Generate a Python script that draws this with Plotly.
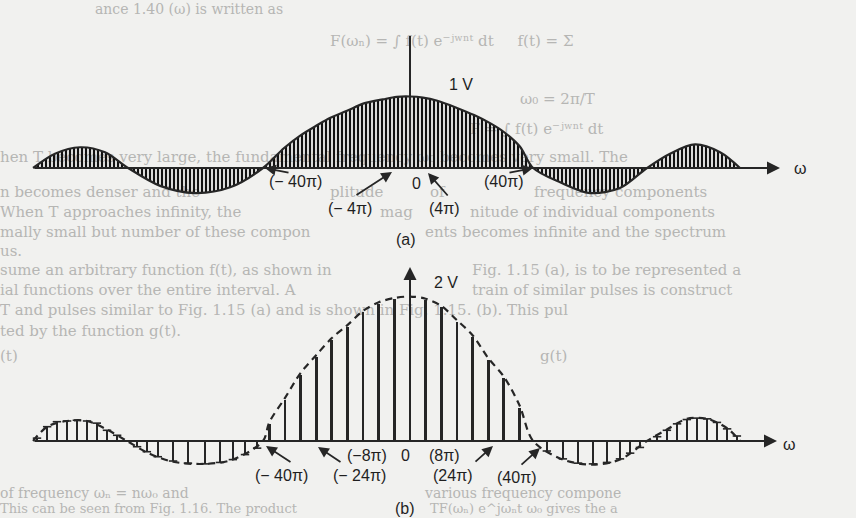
import plotly.graph_objects as go

W, H = 856, 518
INK = "#262626"
GHOST = "#b6b6b4"
BG = "#f1f1ef"

# ---------------- data (omega in units of pi, amplitude in volts) ----------------
# (a) continuous spectrum envelope
env_a_omega = [-96.4, -90.8, -84.4, -78.0, -72.1, -63.9, -55.0, -46.0, -37.6,
               -32.2, -27.9, -24.0, -20.5, -16.1, -12.0, -6.9, -3.4, 0.0,
               3.3, 7.0, 12.0, 16.4, 20.7, 24.1, 28.1, 31.5,
               38.4, 46.0, 53.7, 60.6, 66.5, 72.9, 79.3, 84.4]
env_a_amp = [0.0, 0.20, 0.29, 0.22, 0.0, -0.25, -0.35, -0.27, 0.0,
             0.28, 0.46, 0.59, 0.70, 0.80, 0.90, 0.96, 0.995, 1.0,
             0.985, 0.94, 0.84, 0.74, 0.62, 0.50, 0.30, 0.0,
             -0.20, -0.35, -0.28, 0.0, 0.20, 0.33, 0.22, 0.0]

# (b) line spectrum: main-lobe components (spacing 4*pi)
main_omega = [-36, -32, -28, -24, -20, -16, -12, -8, -4, 0, 4, 8, 12, 16, 20, 24, 28]
main_amp = [0.24, 0.57, 0.92, 1.17, 1.41, 1.59, 1.80, 1.92, 1.99, 2.0,
            1.97, 1.87, 1.66, 1.45, 1.13, 0.88, 0.46]

# (b) side-lobe components
side_omega = [-95.4, -92.8, -90.3, -87.7, -85.2, -82.6, -80.1, -77.5, -74.9,
              -69.8, -67.3, -64.5, -60.6, -56.8, -52.4, -48.6, -45.3, -42.2, -39.1,
              35.0, 39.1, 43.0, 46.8, 50.4, 53.7, 56.3, 58.8,
              63.2, 65.7, 68.3, 70.8, 73.4, 76.0, 78.5, 81.1, 83.6]
side_amp = [0.04, 0.20, 0.27, 0.28, 0.29, 0.28, 0.25, 0.15, 0.08,
            -0.08, -0.15, -0.22, -0.28, -0.31, -0.32, -0.30, -0.26, -0.19, -0.10,
            -0.14, -0.25, -0.31, -0.32, -0.30, -0.25, -0.17, -0.09,
            0.06, 0.15, 0.24, 0.30, 0.32, 0.31, 0.26, 0.17, 0.07]

# (b) dashed envelope
env_b_omega = [-96.4, -92.8, -87.7, -82.6, -77.5, -72.4, -67.3, -60.6, -52.4, -45.3,
               -37.6, -36, -32, -28, -24, -20, -16, -12, -8, -4, 0, 4, 8, 12, 16, 20,
               24, 28, 31.5, 39.1, 46.8, 53.7, 60.6, 65.7, 70.8, 76.0, 81.1, 84.4]
env_b_amp = [0.0, 0.20, 0.28, 0.28, 0.16, 0.0, -0.16, -0.29, -0.32, -0.26,
             0.0, 0.26, 0.60, 0.95, 1.20, 1.44, 1.62, 1.82, 1.94, 2.0, 2.02, 1.99,
             1.89, 1.69, 1.48, 1.16, 0.90, 0.50, 0.0, -0.26, -0.33, -0.26, 0.0,
             0.16, 0.31, 0.31, 0.18, 0.0]

# ---------------- page geometry ----------------
PX_PER_PI = 3.91
PX_PER_V = 71.5
X0 = 410          # pixel column of omega = 0
YA = 168          # pixel row of the (a) axis
YB = 441          # pixel row of the (b) axis


def wx(px):       # pixel column -> omega
    return (px - X0) / PX_PER_PI


def wy(py):       # pixel row -> volts on the (a) axis
    return (YA - py) / PX_PER_V


def P(x, y):
    return x / W, 1 - y / H


# ghost text bleeding through from the scanned page: (x, y, text, size)
ghost_lines = [
    (95, 10, "ance 1.40 (ω) is written as", 14),
    (330, 42, "F(ωₙ) = ∫ f(t) e⁻ʲʷⁿᵗ dt     f(t) = Σ", 15),
    (520, 100, "ω₀ = 2π/T", 15),
    (470, 130, "F = ∫ f(t) e⁻ʲʷⁿᵗ dt", 15),
    (0, 158, "hen T becomes very large, the fundamental frequency ω₀ becomes very small. The", 15),
    (0, 193, "n becomes denser and the", 15),
    (330, 193, "plitude", 15),
    (430, 193, "of", 15),
    (534, 193, "frequency components", 15),
    (0, 213, "When T approaches infinity, the", 15),
    (380, 213, "mag", 15),
    (470, 213, "nitude of individual components", 15),
    (0, 233, "mally small but number of these compon", 15),
    (425, 233, "ents becomes infinite and the spectrum", 15),
    (0, 252, "us.", 15),
    (0, 271, "sume an arbitrary function f(t), as shown in", 15),
    (472, 271, "Fig. 1.15 (a), is to be represented a", 15),
    (0, 291, "ial functions over the entire interval. A", 15),
    (472, 291, "train of similar pulses is construct", 15),
    (0, 311, "T and pulses similar to Fig. 1.15 (a) and is shown in Fig. 1.15. (b). This pul", 15),
    (0, 332, "ted by the function g(t).", 15),
    (0, 357, "(t)", 15),
    (540, 357, "g(t)", 15),
    (0, 494, "of frequency ωₙ = nω₀ and", 14),
    (425, 494, "various frequency compone", 14),
    (0, 510, "This can be seen from Fig. 1.16. The product", 13),
    (430, 510, "TF(ωₙ) e^jωₙt ω₀ gives the a", 13),
]

# ---------------- figure ----------------
fig = go.Figure()

fig.add_trace(go.Scatter(
    x=[wx(g[0]) for g in ghost_lines], y=[wy(g[1]) for g in ghost_lines],
    text=[g[2] for g in ghost_lines], mode="text", textposition="middle right",
    textfont=dict(family="DejaVu Serif", size=[g[3] for g in ghost_lines], color=GHOST),
    xaxis="x", yaxis="y", hoverinfo="skip", showlegend=False, cliponaxis=False))

fig.add_trace(go.Scatter(
    x=env_a_omega, y=env_a_amp, mode="lines",
    line=dict(color=INK, width=2.2, shape="spline", smoothing=0.9),
    fill="tozeroy", fillcolor="rgba(0,0,0,0)",
    fillpattern=dict(shape="|", size=4, solidity=0.55, fgcolor="#111111", fgopacity=1,
                     bgcolor="rgba(0,0,0,0)"),
    xaxis="x", yaxis="y", hoverinfo="skip", showlegend=False))

fig.add_trace(go.Bar(x=main_omega, y=main_amp, width=0.7, marker=dict(color=INK, line=dict(width=0)),
                     xaxis="x", yaxis="y2", hoverinfo="skip", showlegend=False))
fig.add_trace(go.Bar(x=side_omega, y=side_amp, width=0.55, marker=dict(color=INK, line=dict(width=0)),
                     xaxis="x", yaxis="y2", hoverinfo="skip", showlegend=False))
fig.add_trace(go.Scatter(x=side_omega, y=side_amp, mode="markers",
                         marker=dict(symbol="line-ew", size=6, line=dict(color=INK, width=1.6)),
                         xaxis="x", yaxis="y2", hoverinfo="skip", showlegend=False))
fig.add_trace(go.Scatter(
    x=env_b_omega, y=env_b_amp, mode="lines",
    line=dict(color=INK, width=2.2, dash="7px,5px", shape="spline", smoothing=0.9),
    xaxis="x", yaxis="y2", hoverinfo="skip", showlegend=False))

fig.update_layout(
    width=W, height=H, margin=dict(l=0, r=0, t=0, b=0, pad=0),
    paper_bgcolor=BG, plot_bgcolor=BG, bargap=0,
    xaxis=dict(range=[wx(0), wx(W)], visible=False, fixedrange=True),
    yaxis=dict(range=[wy(H), wy(0)], visible=False, domain=[0, 1]),
    yaxis2=dict(range=[(YB - H) / PX_PER_V, YB / PX_PER_V], visible=False, overlaying="y"),
)

ann = []
# axis arrows
ann += [
    dict(x=wx(780), y=0, xref="x", yref="y", ax=wx(33), ay=0, axref="x", ayref="y", text="",
         showarrow=True, arrowhead=2, arrowsize=1.3, arrowwidth=2, arrowcolor=INK),
    dict(x=wx(777), y=0, xref="x", yref="y2", ax=wx(33), ay=0, axref="x", ayref="y2", text="",
         showarrow=True, arrowhead=2, arrowsize=1.3, arrowwidth=2, arrowcolor=INK),
    dict(x=0, y=(YB - 267) / PX_PER_V, xref="x", yref="y2", ax=0, ay=0, axref="x", ayref="y2", text="",
         showarrow=True, arrowhead=2, arrowsize=1.3, arrowwidth=2, arrowcolor=INK),
]

shapes = [dict(type="line", xref="x", yref="y", x0=0, x1=0, y0=0, y1=wy(36),
               line=dict(color=INK, width=2))]

# text labels (pixel positions)
labels = [
    (461, 84, "1 V"), (416, 183, "0"), (295, 181, "(− 40π)"), (350, 208, "(− 4π)"),
    (445, 208, "(4π)"), (504, 182, "(40π)"), (800, 168, "ω"), (406, 240, "(a)"),
    (446, 282, "2 V"), (367, 455, "(−8π)"), (405, 455, "0"), (444, 455, "(8π)"),
    (281, 475, "(− 40π)"), (359, 475, "(− 24π)"), (453, 475, "(24π)"), (517, 477, "(40π)"),
    (789, 444, "ω"), (405, 508, "(b)"),
]
for lx, ly, lt in labels:
    px, py = P(lx, ly)
    ann.append(dict(x=px, y=py, xref="paper", yref="paper", text=lt, showarrow=False,
                    xanchor="center", yanchor="middle",
                    font=dict(family="Liberation Sans", size=16, color="#1f1f1f")))

# pointer arrows (tail -> tip, pixels)
pointers = [
    ((290, 173), (265, 168)), ((355, 196), (392, 172)), ((449, 197), (428, 173)),
    ((508, 173), (533, 168)),
    ((292, 463), (266, 446)), ((342, 463), (318, 447)), ((474, 463), (493, 446)),
    ((520, 466), (540, 448)),
]
for (tx, ty), (hx, hy) in pointers:
    px, py = P(hx, hy)
    ann.append(dict(x=px, y=py, xref="paper", yref="paper", ax=tx - hx, ay=ty - hy,
                    text="", showarrow=True, arrowhead=2, arrowsize=1.2, arrowwidth=1.8,
                    arrowcolor=INK))

fig.update_layout(annotations=ann, shapes=shapes)
fig.write_html("out.html", config={"displayModeBar": False},
               post_script="document.body.style.margin='0px';document.body.style.padding='0px';")
